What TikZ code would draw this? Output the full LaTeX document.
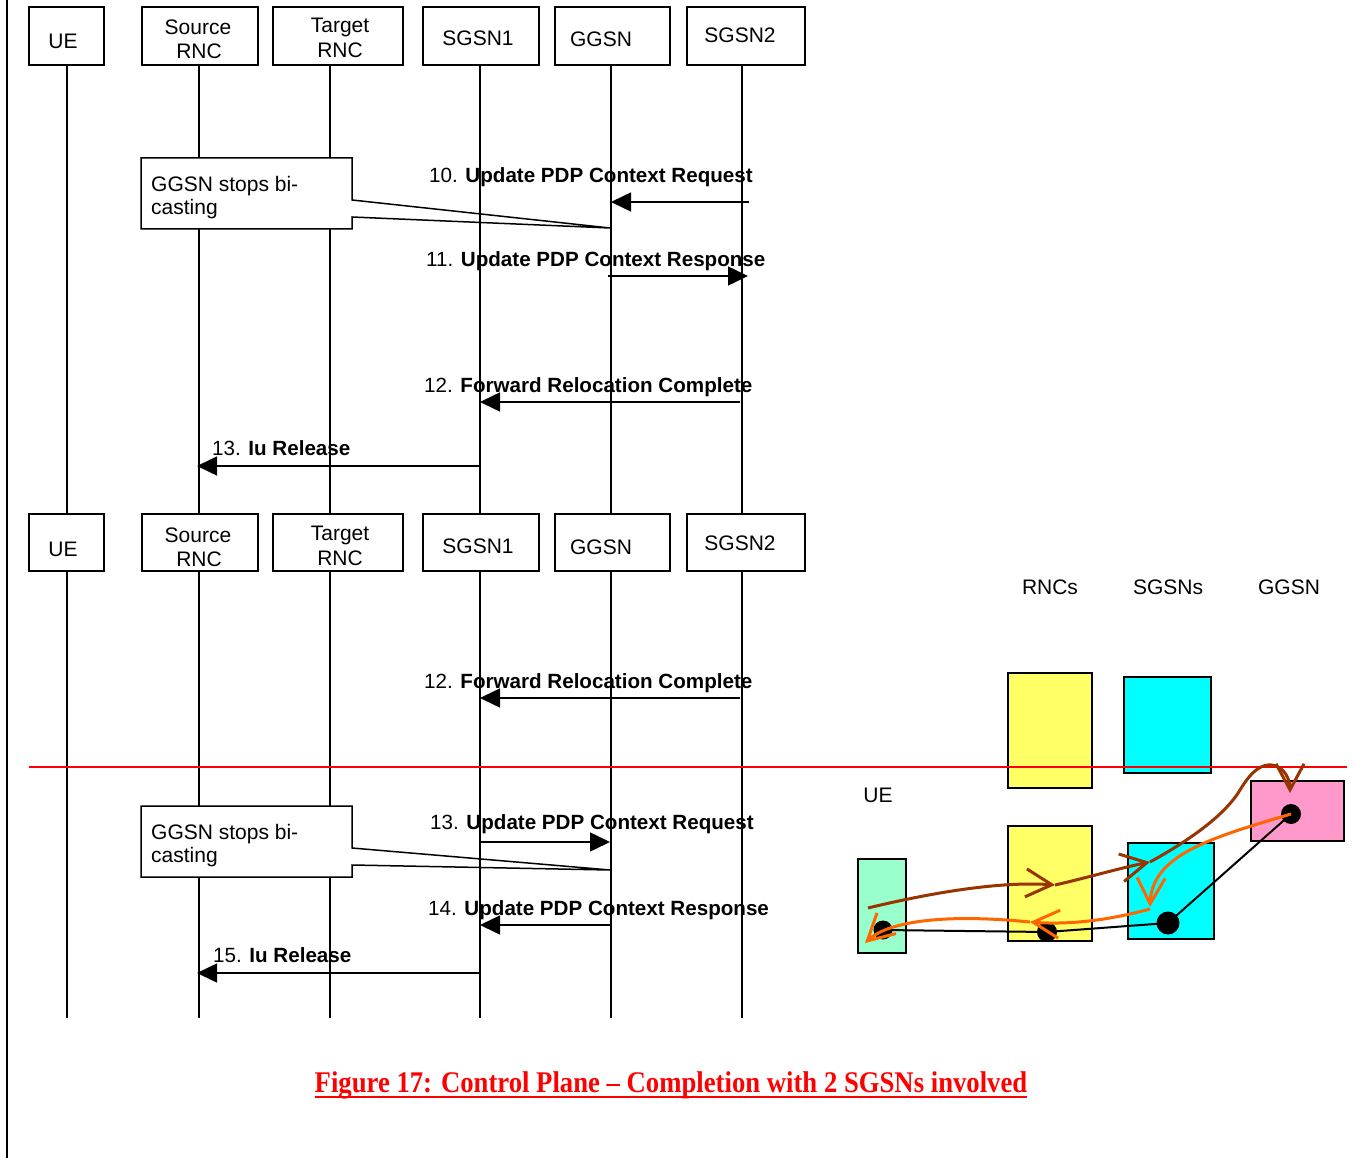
\documentclass[tikz,border=0pt]{standalone}
\usepackage{fontspec}
\setmainfont{Liberation Sans}
\newfontfamily\capfont{Liberation Serif}
\usetikzlibrary{arrows.meta}
\definecolor{ylw}{HTML}{FFFF66}
\definecolor{cyn}{HTML}{00FFFF}
\definecolor{pnk}{HTML}{FF99CC}
\definecolor{grn}{HTML}{99FFCC}
\definecolor{brn}{HTML}{993300}
\definecolor{org}{HTML}{FF6600}
\begin{document}
\begin{tikzpicture}[x=1pt,y=-1pt,
 every node/.style={font=\fontsize{21}{24}\selectfont},
 hdr/.style={draw, line width=2pt, inner sep=0, minimum height=58pt},
 txt/.style={inner sep=0, anchor=base},
 life/.style={line width=2pt},
 msg/.style={line width=1.5pt, -{Triangle[length=20pt,width=19pt]}},
 lbl/.style={inner sep=0, anchor=base west, font=\fontsize{20.6}{24}\selectfont},
 note/.style={line width=1.5pt},
 cbox/.style={draw, line width=2pt, inner sep=0},
 blob/.style={circle, fill=black, inner sep=0},
 brw/.style={brn, line width=3pt, -{Straight Barb[length=26pt,width=28pt]}},
 orw/.style={org, line width=3pt, -{Straight Barb[length=26pt,width=28pt]}},
]
\useasboundingbox (0,0) rectangle (1353,1158);
\draw[line width=2pt] (7,0) -- (7,1158);

% ---- message labels ----
\node[lbl] (t10) at (429,183) {10. \textbf{Update PDP Context Request}};
\node[lbl] (t11) at (426,267) {11. \textbf{Update PDP Context Response}};
\node[lbl] (t12) at (424,393) {12. \textbf{Forward Relocation Complete}};
\node[lbl] (t13) at (212,455) {13. \textbf{Iu Release}};
\node[lbl] (u12) at (424,688) {12. \textbf{Forward Relocation Complete}};
\node[lbl] (u13) at (430,829) {13. \textbf{Update PDP Context Request}};
\node[lbl] (u14) at (428,915) {14. \textbf{Update PDP Context Response}};
\node[lbl] (u15) at (213,962) {15. \textbf{Iu Release}};

% ---- header boxes ----
\foreach \nm/\cx/\w in {ue/66.5/75, src/200/116, tgt/338/130, sga/481/116, gg/612/115, sgb/746/118}{
  \node[hdr, minimum width=\w pt] (\nm A) at (\cx,36.5) {};
  \node[hdr, minimum width=\w pt, minimum height=57pt] (\nm B) at (\cx,542.5) {};
}
\foreach \dy/\r in {0/A,507/B}{
  \node[txt] (ueT\r) at (63,49+\dy) {UE};
  \node[txt] (srcT\r) at (198,35+\dy) {Source};
  \node[txt] (srcU\r) at (199,59+\dy) {RNC};
  \node[txt] (tgtT\r) at (340,33+\dy) {Target};
  \node[txt] (tgtU\r) at (340,58+\dy) {RNC};
  \node[txt] (sgaT\r) at (478,46+\dy) {SGSN1};
  \node[txt] (ggT\r) at (601,47+\dy) {GGSN};
  \node[txt] (sgbT\r) at (740,43+\dy) {SGSN2};
}

% ---- lifelines ----
\foreach \nm/\lx in {L1/67, L2/199, L3/330, L4/480, L5/611, L6/742}{
  \coordinate (\nm a) at (\lx,65);
  \coordinate (\nm b) at (\lx,571);
  \draw[life] (\nm a) -- (\nm a |- 0,514);
  \draw[life] (\nm b) -- (\nm b |- 0,1018);
}

% ---- messages ----
\draw[msg] ([xshift=7pt]L6a |- 0,202) -- (L5a |- 0,202);
\draw[msg] ([xshift=-3pt]L5a |- 0,276) -- ([xshift=6pt]L6a |- 0,276);
\draw[msg] ([xshift=-2pt]L6a |- 0,402) -- (L4a |- 0,402);
\draw[msg] (L4a |- 0,466) -- ([xshift=-2pt]L2a |- 0,466);
\draw[msg] ([xshift=-2pt]L6b |- 0,698) -- (L4b |- 0,698);
\draw[msg] (L4b |- 0,842) -- ([xshift=-1pt]L5b |- 0,842);
\draw[msg] ([xshift=-1pt]L5b |- 0,925) -- (L4b |- 0,925);
\draw[msg] (L4b |- 0,973) -- ([xshift=-2pt]L2b |- 0,973);

% ---- notes ----
\fill[white] (141,158) rectangle (352,229);
\draw[note] (141,158) -- (352,158) -- (352,200) -- (610,228) -- (352,217) -- (352,229) -- (141,229) -- cycle;
\node[lbl, font=\fontsize{21}{24}\selectfont] (n1a) at (151,192) {GGSN stops bi-};
\node[lbl, font=\fontsize{21}{24}\selectfont] (n1b) at (151,215) {casting};
\fill[white] (141,806) rectangle (352,877);
\draw[note] (141,806) -- (352,806) -- (352,848) -- (610,870) -- (352,865) -- (352,877) -- (141,877) -- cycle;
\node[lbl, font=\fontsize{21}{24}\selectfont] (n2a) at (151,839) {GGSN stops bi-};
\node[lbl, font=\fontsize{21}{24}\selectfont] (n2b) at (151,862) {casting};

% ---- right diagram ----
\node[txt] (hR) at (1050,594) {RNCs};
\node[txt] (hS) at (1168,594) {SGSNs};
\node[txt] (hG) at (1289,594) {GGSN};
\node[txt] (hU) at (878,802) {UE};
\node[cbox, fill=ylw, minimum width=84pt, minimum height=115pt] (rncT) at (1050,730.5) {};
\node[cbox, fill=cyn, minimum width=87pt, minimum height=96pt] (sgT) at (1167.5,725) {};
\node[cbox, fill=pnk, minimum width=93pt, minimum height=60pt] (ggX) at (1297.5,811) {};
\node[cbox, fill=ylw, minimum width=84pt, minimum height=115pt] (rncX) at (1050,883.5) {};
\node[cbox, fill=cyn, minimum width=86pt, minimum height=96pt] (sgX) at (1171,891) {};
\node[cbox, fill=grn, minimum width=48pt, minimum height=94pt] (ueX) at (882,906) {};

\draw[red, line width=1.5pt] (29,767) -- (1347,767);

\node[blob, minimum size=19pt] (dU) at (883,930) {};
\node[blob, minimum size=20pt] (dR) at (1047,932) {};
\node[blob, minimum size=23pt] (dS) at (1168,923) {};
\node[blob, minimum size=20pt] (dG) at (1291,814) {};
\draw[line width=2pt] (dU.center) -- (dR.center) -- (dS.center) -- (dG.center);

\coordinate (b0) at (868,908);
\coordinate (b1) at (1055,885);
\coordinate (b2) at (1150,862);
\coordinate (b3) at (1290,793);
\draw[brw] (b0) .. controls (930,893) and (1000,881) .. (b1);
\draw[brw] (b1) .. controls (1090,877) and (1120,868) .. (b2);
\draw[brw] (b2) .. controls (1190,840) and (1225,815) .. (1240,790) .. controls (1252,770) and (1262,764) .. (1272,765) .. controls (1285,767) and (1290,780) .. (b3);

\coordinate (o1) at (1150,907);
\coordinate (o2) at (1030,922);
\coordinate (o3) at (865,943);
\draw[orw] (dG.center) .. controls (1210,838) and (1152,855) .. (o1);
\draw[orw] ([yshift=-2pt]o1) .. controls (1110,920) and (1070,925) .. (o2);
\draw[orw] (o2) .. controls (950,914) and (890,920) .. (o3);

% ---- caption ----
\node[inner sep=0, anchor=base, text=red, font=\capfont\bfseries\fontsize{30}{32}\selectfont] (cap) at (671,1092) {\scalebox{0.89}[1]{Figure 17: Control Plane – Completion with 2 SGSNs involved}};
\draw[red, line width=2.5pt] ([yshift=-5pt]cap.base west) -- ([yshift=-5pt]cap.base east);
\end{tikzpicture}
\end{document}
